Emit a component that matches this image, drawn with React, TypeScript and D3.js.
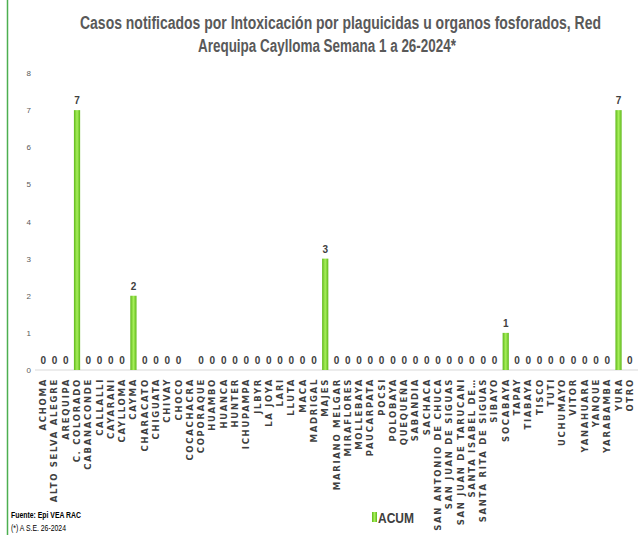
import React from 'react';
import * as d3 from 'd3';

const categories = [
  'ACHOMA', 'ALTO SELVA ALEGRE', 'AREQUIPA', 'C. COLORADO', 'CABANACONDE', 'CALLALLI', 'CAYARANI',
  'CAYLLOMA', 'CAYMA', 'CHARACATO', 'CHIGUATA', 'CHIVAY', 'CHOCO', 'COCACHACRA', 'COPORAQUE',
  'HUAMBO', 'HUANCA', 'HUNTER', 'ICHUPAMPA', 'JLBYR', 'LA JOYA', 'LARI', 'LLUTA', 'MACA',
  'MADRIGAL', 'MAJES', 'MARIANO MELGAR', 'MIRAFLORES', 'MOLLEBAYA', 'PAUCARPATA', 'POCSI',
  'POLOBAYA', 'QUEQUEÑA', 'SABANDIA', 'SACHACA', 'SAN ANTONIO DE CHUCA', 'SAN JUAN DE SIGUAS',
  'SAN JUAN DE TARUCANI', 'SANTA ISABEL DE…', 'SANTA RITA DE SIGUAS', 'SIBAYO', 'SOCABAYA',
  'TAPAY', 'TIABAYA', 'TISCO', 'TUTI', 'UCHUMAYO', 'VITOR', 'YANAHUARA', 'YANQUE', 'YARABAMBA',
  'YURA', 'OTRO',
];
const acum: (number | null)[] = [
  0, 0, 0, 7, 0, 0, 0, 0, 2, 0, 0, 0, 0, null, 0, 0, 0, 0, 0, 0, 0, 0, 0, 0, 0, 3, 0, 0, 0, 0,
  0, 0, 0, 0, 0, 0, 0, 0, 0, 0, 0, 1, 0, 0, 0, 0, 0, 0, 0, 0, 0, 7, 0,
];
const yTicks = [0, 1, 2, 3, 4, 5, 6, 7, 8];

export default function App() {
  const W = 642, H = 535;
  const x = d3.scaleBand<string>().domain(categories).range([35, 638]).padding(0.45);
  const y = d3.scaleLinear().domain([0, 8]).range([370, 73]);
  return (
    <svg width={W} height={H} style={{ position: 'absolute', left: 0, top: 0 }}
      fontFamily="'Liberation Sans', Arial, sans-serif">
      <defs>
        <linearGradient id="g" x1="0" x2="1">
          <stop offset="0" stopColor="#5fb81a" />
          <stop offset="0.5" stopColor="#a6ef5a" />
          <stop offset="1" stopColor="#5fb81a" />
        </linearGradient>
      </defs>
      <rect x={0} y={0} width={W} height={H} fill="#fff" />
      <line x1={7.5} x2={7.5} y1={0} y2={H} stroke="#4caf50" strokeWidth={1.5} />
      <text x={80} y={29} fontSize={18} fontWeight="bold" fill="#595959"
        textLength={521} lengthAdjust="spacingAndGlyphs">
        Casos notificados por Intoxicación por plaguicidas u organos fosforados, Red
      </text>
      <text x={198} y={52} fontSize={18} fontWeight="bold" fill="#595959"
        textLength={258} lengthAdjust="spacingAndGlyphs">
        Arequipa Caylloma  Semana 1 a 26-2024*
      </text>
      {yTicks.map((t) => (
        <text key={t} x={31} y={y(t) + 3} textAnchor="end" fontSize={8} fill="#595959">{t}</text>
      ))}
      <line x1={35} x2={638} y1={y(0)} y2={y(0)} stroke="#d9d9d9" />
      {categories.map((c, i) => {
        const v = acum[i];
        const cx = x(c)! + x.bandwidth() / 2;
        return (
          <g key={c}>
            {v !== null && v > 0 && (
              <rect x={x(c)} y={y(v)} width={x.bandwidth()} height={y(0) - y(v)} fill="url(#g)" />
            )}
            {v !== null && (
              <text x={cx} y={y(v) - 6} textAnchor="middle" fontSize={10} fontWeight="bold" fill="#404040">{v}</text>
            )}
            <text transform={`translate(${cx + 3},378) rotate(-90)`} textAnchor="end" fontSize={8.5}
              fontWeight="bold" fill="#404040" fontFamily="'DejaVu Sans', sans-serif" letterSpacing={1.7}>
              {c}
            </text>
          </g>
        );
      })}
      <rect x={372} y={512} width={5} height={10} fill="url(#g)" />
      <text x={378} y={523} fontSize={15} fontWeight="bold" fill="#404040"
        textLength={36} lengthAdjust="spacingAndGlyphs">ACUM</text>
      <text x={11} y={518} fontSize={9.5} fontWeight="bold" fill="#000"
        textLength={70} lengthAdjust="spacingAndGlyphs">Fuente: Epi VEA RAC</text>
      <text x={11} y={531} fontSize={9} fill="#000"
        textLength={55} lengthAdjust="spacingAndGlyphs">(*) A S.E. 26-2024</text>
    </svg>
  );
}
